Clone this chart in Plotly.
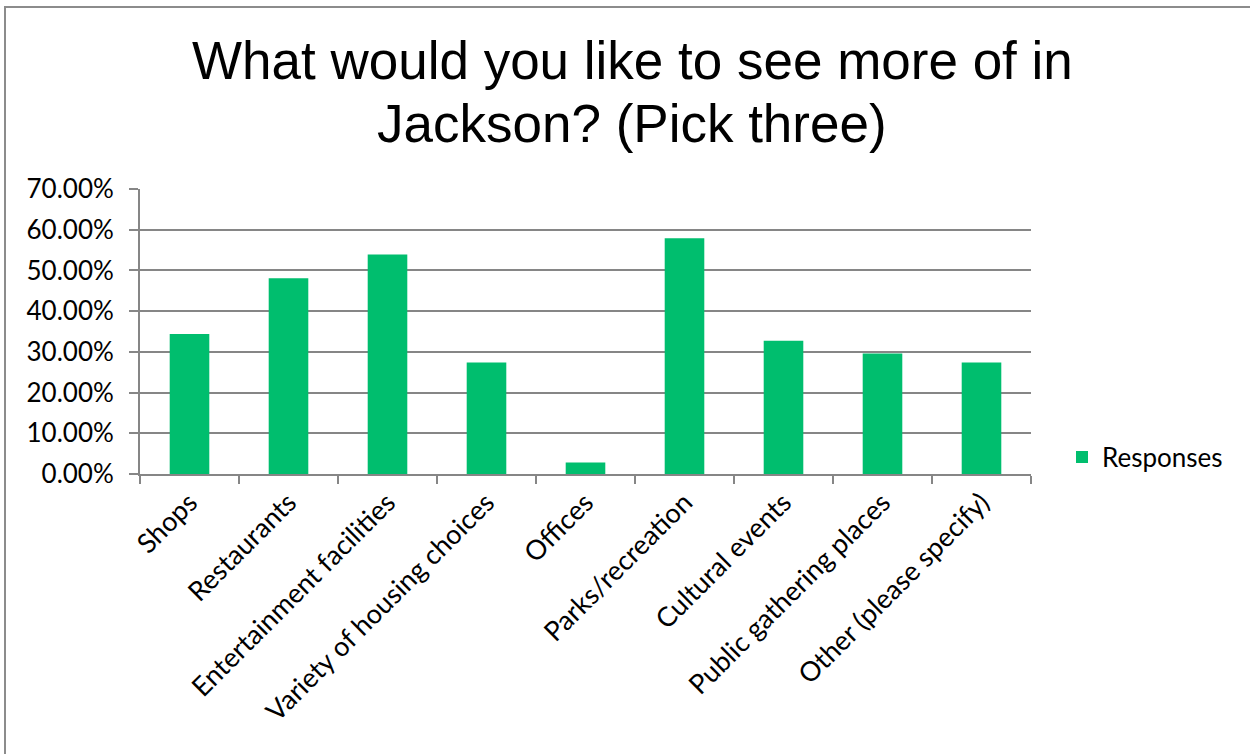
import plotly.graph_objects as go

categories = ["Shops", "Restaurants", "Entertainment facilities", "Variety of housing choices",
              "Offices", "Parks/recreation", "Cultural events", "Public gathering places",
              "Other (please specify)"]
values = [0.344, 0.481, 0.539, 0.274, 0.028, 0.579, 0.327, 0.296, 0.274]
y_ticks = [0, 0.1, 0.2, 0.3, 0.4, 0.5, 0.6, 0.7]
y_ticklabels = ["0.00%", "10.00%", "20.00%", "30.00%", "40.00%", "50.00%", "60.00%", "70.00%"]
title_lines = ["What would you like to see more of in", "Jackson? (Pick three)"]

green = "#00BE6E"
grid = "#868686"

fig = go.Figure()
fig.add_trace(go.Bar(x=categories, y=values, name="Responses",
                     marker=dict(color=green, line=dict(width=0)), showlegend=True))

W, H = 1250, 754
L, R, T, B = 140, 1031, 189, 474
pw, ph = R - L, B - T

def px(x):
    return (x - L) / pw

def py(y):
    return (B - y) / ph

annotations = []
for line, ycen in zip(title_lines, [61, 124]):
    annotations.append(dict(text=line, xref="paper", yref="paper", x=px(632), y=py(ycen),
                            xanchor="center", yanchor="middle", showarrow=False,
                            font=dict(family="Liberation Sans, Arial", size=53, color="black")))

fig.update_layout(
    width=W, height=H,
    margin=dict(l=L, r=W - R, t=T, b=H - B, pad=0),
    paper_bgcolor="white", plot_bgcolor="white",
    bargap=0.6,
    font=dict(family="Lato, Open Sans, sans-serif", color="black"),
    showlegend=True,
    legend=dict(x=px(1062), y=py(457), xanchor="left", yanchor="middle",
                font=dict(size=26, family="Lato, Open Sans, sans-serif", color="black"),
                bgcolor="rgba(0,0,0,0)"),
    xaxis=dict(type="category", showline=True, linecolor=grid, linewidth=2,
               ticks="outside", tickson="boundaries", ticklen=8, tickcolor=grid, tickwidth=2,
               tickangle=-45, tickfont=dict(size=27), showgrid=False),
    yaxis=dict(range=[0, 0.7], tickvals=y_ticks, ticktext=y_ticklabels, showline=True,
               linecolor=grid, linewidth=2, ticks="outside", ticklen=9, tickcolor=grid, tickwidth=2,
               ticklabelstandoff=10,
               showgrid=True, gridcolor=grid, gridwidth=2, tickfont=dict(size=26), zeroline=False),
    annotations=annotations,
    shapes=[dict(type="rect", xref="paper", yref="paper",
                 x0=px(5), y0=py(760), x1=px(1260), y1=py(7),
                 line=dict(color="#8C8C8C", width=2), fillcolor="rgba(0,0,0,0)", layer="below")],
)

fig.write_html("out.html", config={"displayModeBar": False},
               post_script="document.body.style.margin='0';document.body.style.overflow='hidden';")
